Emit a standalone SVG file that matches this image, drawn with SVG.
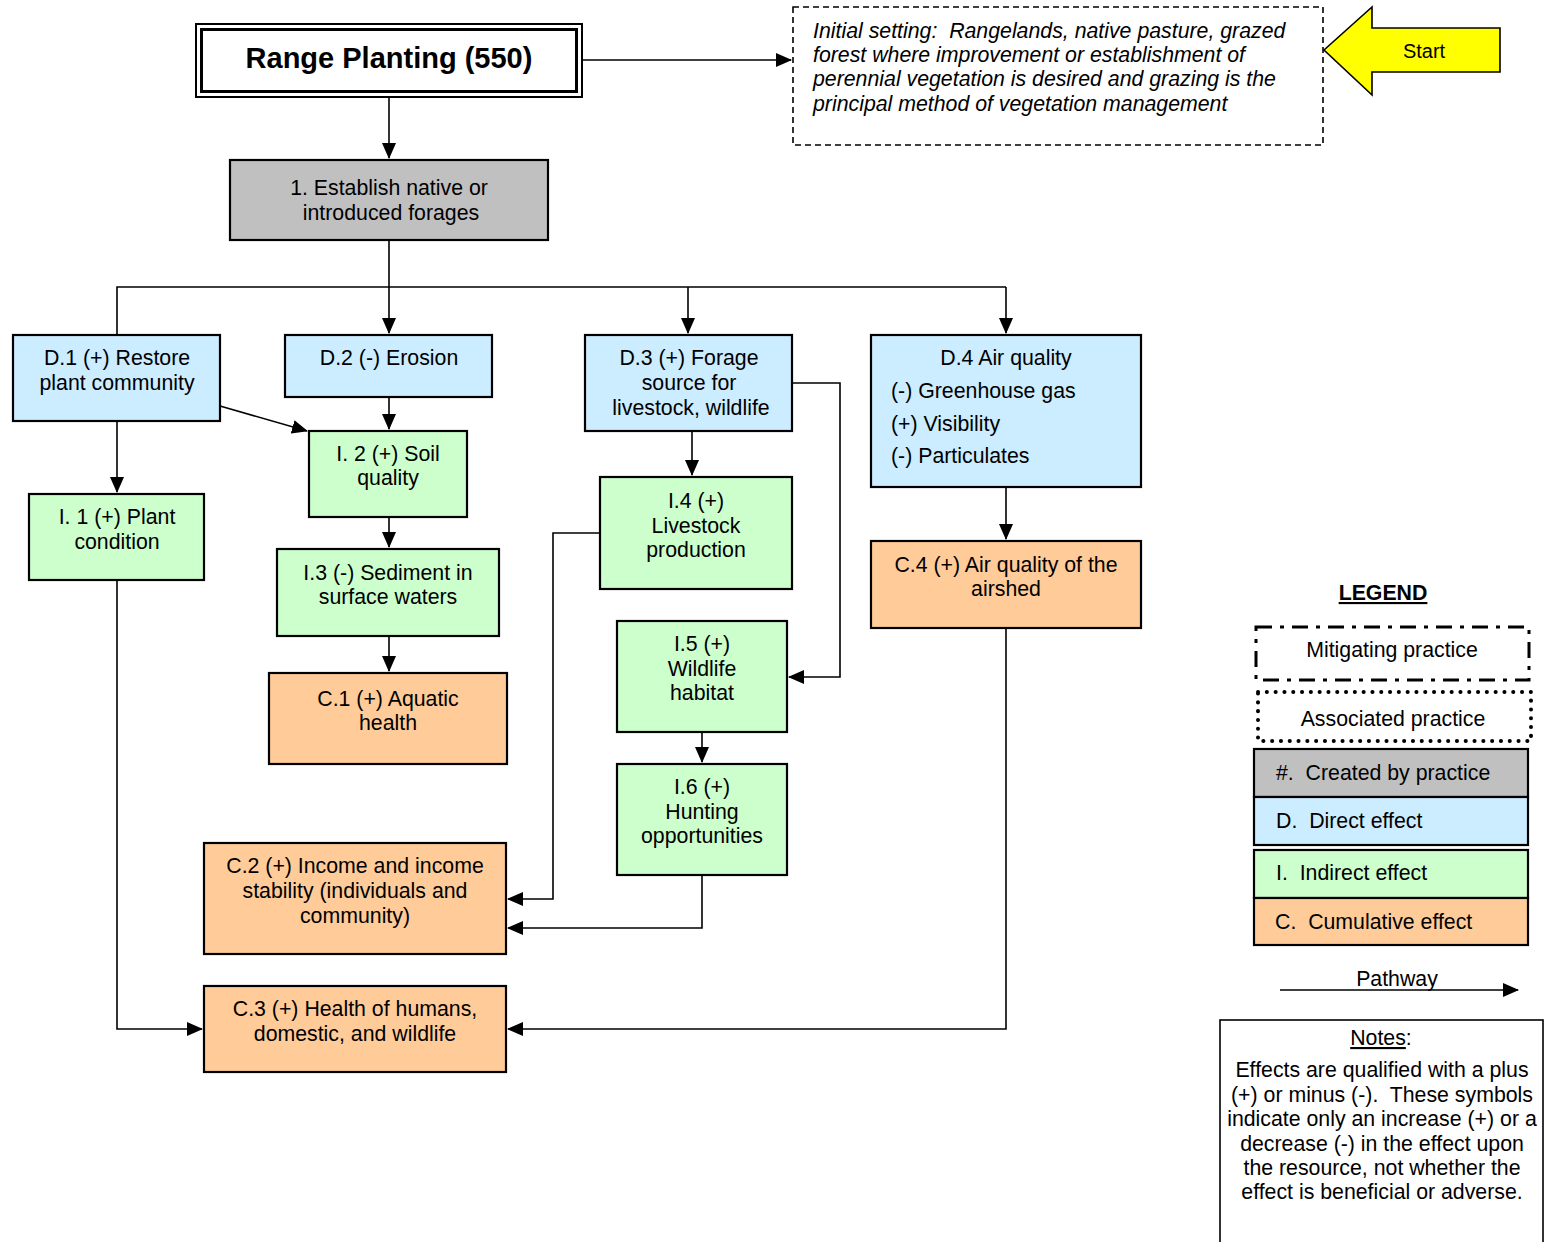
<svg xmlns="http://www.w3.org/2000/svg" width="1545" height="1242" viewBox="0 0 1545 1242">
<style>
text{font-family:"Liberation Sans",Arial,sans-serif;font-size:21.3px;fill:#000;white-space:pre}
.c{text-anchor:middle}
.it{font-style:italic;font-size:21.3px}
.box{stroke:#000;stroke-width:2.2}
.g{fill:#C0C0C0}.d{fill:#CCECFF}.i{fill:#CCFFCC}.cu{fill:#FFCC99}
.con{fill:none;stroke:#000;stroke-width:1.6}
</style>
<defs>
<marker id="ah" markerUnits="userSpaceOnUse" markerWidth="16" markerHeight="14" refX="15" refY="7" orient="auto">
<path d="M0,0 L16,7 L0,14 Z" fill="#000"/>
</marker>
</defs>
<rect width="1545" height="1242" fill="#fff"/>

<g id="connectors">
<path class="con" d="M583,60 H791" marker-end="url(#ah)"/>
<path class="con" d="M389,98 V158" marker-end="url(#ah)"/>
<path class="con" d="M389,240 V287 M117,335 V287 H1006"/>
<path class="con" d="M389,287 V333" marker-end="url(#ah)"/>
<path class="con" d="M688,287 V333" marker-end="url(#ah)"/>
<path class="con" d="M1006,287 V333" marker-end="url(#ah)"/>
<path class="con" d="M117,421 V492" marker-end="url(#ah)"/>
<path class="con" d="M220,406 L307,431" marker-end="url(#ah)"/>
<path class="con" d="M389,397 V429" marker-end="url(#ah)"/>
<path class="con" d="M389,517 V547" marker-end="url(#ah)"/>
<path class="con" d="M389,636 V671" marker-end="url(#ah)"/>
<path class="con" d="M692,431 V475" marker-end="url(#ah)"/>
<path class="con" d="M792,383 H840 V677 H789" marker-end="url(#ah)"/>
<path class="con" d="M600,533 H553 V899 H508" marker-end="url(#ah)"/>
<path class="con" d="M702,732 V762" marker-end="url(#ah)"/>
<path class="con" d="M702,875 V928 H508" marker-end="url(#ah)"/>
<path class="con" d="M117,580 V1029 H202" marker-end="url(#ah)"/>
<path class="con" d="M1006,487 V539" marker-end="url(#ah)"/>
<path class="con" d="M1006,628 V1029 H508" marker-end="url(#ah)"/>
</g>

<g id="title">
<rect x="196" y="24" width="386" height="73" fill="#fff" stroke="#000" stroke-width="2"/>
<rect x="201.5" y="29.5" width="375" height="62" fill="none" stroke="#000" stroke-width="3"/>
<text x="389" y="68" class="c" style="font-size:29px;font-weight:bold">Range Planting (550)</text>
</g>

<g id="initial-setting">
<rect x="793" y="7" width="530" height="138" fill="#fff" stroke="#000" stroke-width="1.6" stroke-dasharray="6,4"/>
<text x="813" y="38" class="it">Initial setting:  Rangelands, native pasture, grazed</text>
<text x="813" y="62" class="it">forest where improvement or establishment of</text>
<text x="813" y="86" class="it">perennial vegetation is desired and grazing is the</text>
<text x="813" y="111" class="it">principal method of vegetation management</text>
</g>

<g id="start">
<path d="M1324,50 L1372,7 V28 H1500 V72 H1372 V95 Z" fill="#FFFF00" stroke="#000" stroke-width="1.6"/>
<text x="1424" y="58" class="c" style="font-size:20px">Start</text>
</g>

<g id="n1">
<rect class="box g" x="230" y="160" width="318" height="80"/>
<text x="389" y="195" class="c">1. Establish native or</text>
<text x="391" y="220" class="c">introduced forages</text>
</g>

<g id="d1">
<rect class="box d" x="13" y="335" width="207" height="86"/>
<text x="117" y="365" class="c">D.1 (+) Restore</text>
<text x="117" y="390" class="c">plant community</text>
</g>
<g id="d2">
<rect class="box d" x="285" y="335" width="207" height="62"/>
<text x="389" y="365" class="c">D.2 (-) Erosion</text>
</g>
<g id="d3">
<rect class="box d" x="585" y="335" width="207" height="96"/>
<text x="689" y="365" class="c">D.3 (+) Forage</text>
<text x="689" y="390" class="c">source for</text>
<text x="691" y="415" class="c">livestock, wildlife</text>
</g>
<g id="d4">
<rect class="box d" x="871" y="335" width="270" height="152"/>
<text x="1006" y="365" class="c">D.4 Air quality</text>
<text x="891" y="398">(-) Greenhouse gas</text>
<text x="891" y="431">(+) Visibility</text>
<text x="891" y="463">(-) Particulates</text>
</g>

<g id="i1">
<rect class="box i" x="29" y="494" width="175" height="86"/>
<text x="117" y="524" class="c">I. 1 (+) Plant</text>
<text x="117" y="549" class="c">condition</text>
</g>
<g id="i2">
<rect class="box i" x="309" y="431" width="158" height="86"/>
<text x="388" y="461" class="c">I. 2 (+) Soil</text>
<text x="388" y="485" class="c">quality</text>
</g>
<g id="i3">
<rect class="box i" x="277" y="549" width="222" height="87"/>
<text x="388" y="580" class="c">I.3 (-) Sediment in</text>
<text x="388" y="604" class="c">surface waters</text>
</g>
<g id="c1">
<rect class="box cu" x="269" y="673" width="238" height="91"/>
<text x="388" y="706" class="c">C.1 (+) Aquatic</text>
<text x="388" y="730" class="c">health</text>
</g>
<g id="i4">
<rect class="box i" x="600" y="477" width="192" height="112"/>
<text x="696" y="508" class="c">I.4 (+)</text>
<text x="696" y="533" class="c">Livestock</text>
<text x="696" y="557" class="c">production</text>
</g>
<g id="i5">
<rect class="box i" x="617" y="621" width="170" height="111"/>
<text x="702" y="651" class="c">I.5 (+)</text>
<text x="702" y="676" class="c">Wildlife</text>
<text x="702" y="700" class="c">habitat</text>
</g>
<g id="i6">
<rect class="box i" x="617" y="764" width="170" height="111"/>
<text x="702" y="794" class="c">I.6 (+)</text>
<text x="702" y="819" class="c">Hunting</text>
<text x="702" y="843" class="c">opportunities</text>
</g>
<g id="c2">
<rect class="box cu" x="204" y="843" width="302" height="111"/>
<text x="355" y="873" class="c">C.2 (+) Income and income</text>
<text x="355" y="898" class="c">stability (individuals and</text>
<text x="355" y="923" class="c">community)</text>
</g>
<g id="c3">
<rect class="box cu" x="204" y="986" width="302" height="86"/>
<text x="355" y="1016" class="c">C.3 (+) Health of humans,</text>
<text x="355" y="1041" class="c">domestic, and wildlife</text>
</g>
<g id="c4">
<rect class="box cu" x="871" y="541" width="270" height="87"/>
<text x="1006" y="572" class="c">C.4 (+) Air quality of the</text>
<text x="1006" y="596" class="c">airshed</text>
</g>

<g id="legend">
<text x="1383" y="600" class="c" style="font-weight:bold;text-decoration:underline">LEGEND</text>
<rect x="1256" y="627" width="273" height="53" fill="#fff" stroke="#000" stroke-width="3" stroke-dasharray="16,8,4,8"/>
<text x="1392" y="657" class="c">Mitigating practice</text>
<rect x="1258" y="692" width="273" height="49" fill="#fff" stroke="#000" stroke-width="4" stroke-dasharray="0.1,8.7" stroke-linecap="round"/>
<text x="1393" y="726" class="c">Associated practice</text>
<rect class="box g" x="1254" y="749" width="274" height="48"/>
<text x="1276" y="780">#.  Created by practice</text>
<rect class="box d" x="1254" y="797" width="274" height="48"/>
<text x="1276" y="828">D.  Direct effect</text>
<rect class="box i" x="1254" y="850" width="274" height="48"/>
<text x="1276" y="880">I.  Indirect effect</text>
<rect class="box cu" x="1254" y="898" width="274" height="47"/>
<text x="1275" y="929">C.  Cumulative effect</text>
<text x="1397" y="986" class="c">Pathway</text>
<path class="con" d="M1280,990 H1518" marker-end="url(#ah)"/>
</g>

<g id="notes">
<rect x="1220" y="1020" width="323" height="240" fill="#fff" stroke="#000" stroke-width="1.6"/>
<text x="1381" y="1045" class="c"><tspan style="text-decoration:underline">Notes</tspan>:</text>
<text x="1382" y="1077" class="c">Effects are qualified with a plus</text>
<text x="1382" y="1102" class="c">(+) or minus (-).  These symbols</text>
<text x="1382" y="1126" class="c">indicate only an increase (+) or a</text>
<text x="1382" y="1151" class="c">decrease (-) in the effect upon</text>
<text x="1382" y="1175" class="c">the resource, not whether the</text>
<text x="1382" y="1199" class="c">effect is beneficial or adverse.</text>
</g>
</svg>
